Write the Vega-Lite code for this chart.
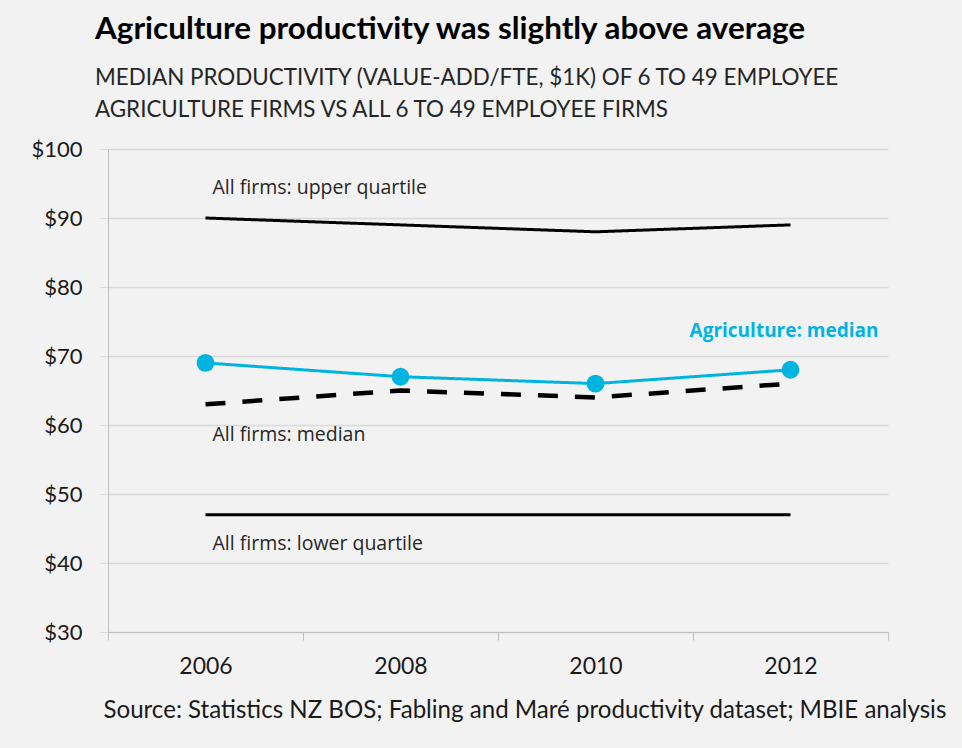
{
  "$schema": "https://vega.github.io/schema/vega-lite/v6.json",
  "autosize": "none",
  "width": 780,
  "height": 483,
  "padding": {"left": 108, "top": 149, "right": 74, "bottom": 116},
  "background": "#f2f2f2",
  "title": {
    "text": "Agriculture productivity was slightly above average",
    "subtitle": ["MEDIAN PRODUCTIVITY (VALUE-ADD/FTE, $1K) OF 6 TO 49 EMPLOYEE", "AGRICULTURE FIRMS VS ALL 6 TO 49 EMPLOYEE FIRMS"],
    "anchor": "start",
    "frame": "group",
    "dx": -13,
    "font": "Lato",
    "fontSize": 31.4,
    "fontWeight": "bold",
    "color": "#000000",
    "subtitleFont": "Lato",
    "subtitleFontSize": 22.4,
    "subtitleColor": "#262626",
    "subtitleLineHeight": 32,
    "subtitlePadding": 21,
    "offset": 17
  },
  "config": {
    "view": {"stroke": null},
    "axis": {"labelFont": "Lato", "titleFont": "Lato"}
  },
  "data": {
    "values": [
      {"year": "2006", "series": "All firms: upper quartile", "value": 90},
      {"year": "2008", "series": "All firms: upper quartile", "value": 89},
      {"year": "2010", "series": "All firms: upper quartile", "value": 88},
      {"year": "2012", "series": "All firms: upper quartile", "value": 89},
      {"year": "2006", "series": "All firms: median", "value": 63},
      {"year": "2008", "series": "All firms: median", "value": 65},
      {"year": "2010", "series": "All firms: median", "value": 64},
      {"year": "2012", "series": "All firms: median", "value": 66},
      {"year": "2006", "series": "All firms: lower quartile", "value": 47},
      {"year": "2008", "series": "All firms: lower quartile", "value": 47},
      {"year": "2010", "series": "All firms: lower quartile", "value": 47},
      {"year": "2012", "series": "All firms: lower quartile", "value": 47},
      {"year": "2006", "series": "Agriculture: median", "value": 69},
      {"year": "2008", "series": "Agriculture: median", "value": 67},
      {"year": "2010", "series": "Agriculture: median", "value": 66},
      {"year": "2012", "series": "Agriculture: median", "value": 68}
    ]
  },
  "encoding": {
    "x": {
      "field": "year",
      "type": "ordinal",
      "bandPosition": 0.5,
      "scale": {"type": "band", "paddingInner": 0, "paddingOuter": 0},
      "axis": {
        "title": "Source: Statistics NZ BOS; Fabling and Maré productivity dataset; MBIE analysis",
        "titleFontSize": 24.1,
        "titleFontWeight": "normal",
        "titleColor": "#1a1a1a",
        "titleAnchor": "start",
        "titleAlign": "left",
        "titleX": -5,
        "titlePadding": 20,
        "labelAngle": 0,
        "labelFontSize": 23,
        "labelColor": "#1a1a1a",
        "labelPadding": 15,
        "tickBand": "extent",
        "tickSize": 8,
        "tickColor": "#bfbfbf",
        "domainColor": "#bfbfbf",
        "grid": false
      }
    },
    "y": {
      "field": "value",
      "type": "quantitative",
      "scale": {"domain": [30, 100], "nice": false, "zero": false},
      "axis": {
        "title": null,
        "values": [30, 40, 50, 60, 70, 80, 90, 100],
        "format": "$d",
        "labelFontSize": 22,
        "labelColor": "#1a1a1a",
        "labelPadding": 18,
        "tickSize": 8,
        "tickColor": "#d9d9d9",
        "domainColor": "#bfbfbf",
        "gridColor": "#d9d9d9",
        "gridWidth": 1.5
      }
    }
  },
  "layer": [
    {
      "mark": {"type": "line", "strokeCap": "butt"},
      "encoding": {
        "detail": {"field": "series"},
        "color": {
          "field": "series",
          "scale": {
            "domain": ["All firms: upper quartile", "All firms: median", "All firms: lower quartile", "Agriculture: median"],
            "range": ["#000000", "#000000", "#000000", "#00b4e1"]
          },
          "legend": null
        },
        "strokeWidth": {
          "field": "series",
          "scale": {
            "type": "ordinal",
            "domain": ["All firms: upper quartile", "All firms: median", "All firms: lower quartile", "Agriculture: median"],
            "range": [3, 4.5, 3, 3]
          },
          "legend": null
        },
        "strokeDash": {
          "field": "series",
          "scale": {
            "domain": ["All firms: upper quartile", "All firms: median", "All firms: lower quartile", "Agriculture: median"],
            "range": [[1, 0], [20, 17], [1, 0], [1, 0]]
          },
          "legend": null
        }
      }
    },
    {
      "transform": [{"filter": "datum.series === 'Agriculture: median'"}],
      "mark": {"type": "point", "filled": true, "opacity": 1, "size": 320, "color": "#00b4e1"}
    },
    {
      "transform": [{"filter": "datum.series === 'All firms: upper quartile' && datum.year === '2006'"}],
      "mark": {"type": "text", "text": "All firms: upper quartile", "align": "left", "baseline": "middle", "dx": 7, "dy": -30, "font": "Open Sans", "fontSize": 19.5, "color": "#262626"}
    },
    {
      "transform": [{"filter": "datum.series === 'All firms: median' && datum.year === '2006'"}],
      "mark": {"type": "text", "text": "All firms: median", "align": "left", "baseline": "middle", "dx": 7, "dy": 31, "font": "Open Sans", "fontSize": 19.5, "color": "#262626"}
    },
    {
      "transform": [{"filter": "datum.series === 'All firms: lower quartile' && datum.year === '2006'"}],
      "mark": {"type": "text", "text": "All firms: lower quartile", "align": "left", "baseline": "middle", "dx": 7, "dy": 29, "font": "Open Sans", "fontSize": 19.5, "color": "#262626"}
    },
    {
      "transform": [{"filter": "datum.series === 'Agriculture: median' && datum.year === '2012'"}],
      "mark": {"type": "text", "text": "Agriculture: median", "align": "right", "baseline": "middle", "dx": 88, "dy": -39, "font": "Open Sans", "fontSize": 19, "fontWeight": "bold", "color": "#00b4e1"}
    }
  ]
}
